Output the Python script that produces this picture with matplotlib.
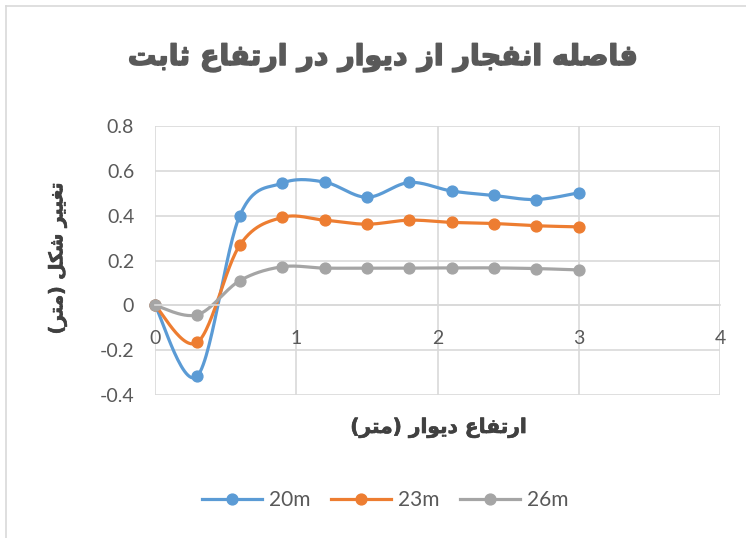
import numpy as np
import matplotlib
matplotlib.use("Agg")
import matplotlib.pyplot as plt
import matplotlib.patheffects as pe
from matplotlib.lines import Line2D

# ارتفاع دیوار (متر)
x = [0, 0.3, 0.6, 0.9, 1.2, 1.5, 1.8, 2.1, 2.4, 2.7, 3.0]
# تغییر شکل برای هر فاصله انفجار
d20 = [0, -0.315, 0.40, 0.545, 0.55, 0.482, 0.548, 0.51, 0.49, 0.472, 0.502]
d23 = [0, -0.165, 0.268, 0.392, 0.38, 0.362, 0.38, 0.37, 0.365, 0.355, 0.35]
d26 = [0, -0.042, 0.11, 0.172, 0.166, 0.166, 0.166, 0.167, 0.167, 0.164, 0.158]
series_labels = ["20m", "23m", "26m"]
colors = ["#5B9BD5", "#ED7D31", "#A5A5A5"]
xticks = [0, 1, 2, 3, 4]
yticks = [-0.4, -0.2, 0, 0.2, 0.4, 0.6, 0.8]
ytick_labels = ["-0.4", "-0.2", "0", "0.2", "0.4", "0.6", "0.8"]

title = "فاصله انفجار از دیوار در ارتفاع ثابت"
xlabel = "ارتفاع دیوار (متر)"
ylabel = "تغییر شکل (متر)"

# فرم‌های نمایشی حروف: (تنها، پایانی، آغازی، میانی)
FORMS = {
    "ا": ("\uFE8D", "\uFE8E", None, None),
    "ب": ("\uFE8F", "\uFE90", "\uFE91", "\uFE92"),
    "ت": ("\uFE95", "\uFE96", "\uFE97", "\uFE98"),
    "ث": ("\uFE99", "\uFE9A", "\uFE9B", "\uFE9C"),
    "ج": ("\uFE9D", "\uFE9E", "\uFE9F", "\uFEA0"),
    "د": ("\uFEA9", "\uFEAA", None, None),
    "ر": ("\uFEAD", "\uFEAE", None, None),
    "ز": ("\uFEAF", "\uFEB0", None, None),
    "ش": ("\uFEB5", "\uFEB6", "\uFEB7", "\uFEB8"),
    "ص": ("\uFEB9", "\uFEBA", "\uFEBB", "\uFEBC"),
    "ع": ("\uFEC9", "\uFECA", "\uFECB", "\uFECC"),
    "غ": ("\uFECD", "\uFECE", "\uFECF", "\uFED0"),
    "ف": ("\uFED1", "\uFED2", "\uFED3", "\uFED4"),
    "ل": ("\uFEDD", "\uFEDE", "\uFEDF", "\uFEE0"),
    "م": ("\uFEE1", "\uFEE2", "\uFEE3", "\uFEE4"),
    "ن": ("\uFEE5", "\uFEE6", "\uFEE7", "\uFEE8"),
    "ه": ("\uFEE9", "\uFEEA", "\uFEEB", "\uFEEC"),
    "و": ("\uFEED", "\uFEEE", None, None),
    "ی": ("\uFBFC", "\uFBFD", "\uFBFE", "\uFBFF"),
    "ک": ("\uFB8E", "\uFB8F", "\uFB90", "\uFB91"),
}


def shape(text):
    # اتصال حروف و چینش راست به چپ
    out = []
    for i, c in enumerate(text):
        if c not in FORMS:
            out.append(c)
            continue
        prev = text[i - 1] if i > 0 else ""
        nxt = text[i + 1] if i + 1 < len(text) else ""
        jp = prev in FORMS and FORMS[prev][2] is not None
        jn = FORMS[c][2] is not None and nxt in FORMS
        f = FORMS[c]
        if jp and jn:
            out.append(f[3])
        elif jp:
            out.append(f[1])
        elif jn:
            out.append(f[2])
        else:
            out.append(f[0])
    mirror = {"(": ")", ")": "("}
    return "".join(mirror.get(ch, ch) for ch in reversed(out))


def smooth(xs, ys, n=30):
    # منحنی نرم بین نقاط (بزیه مکعبی)
    p = np.column_stack([xs, ys]).astype(float)
    pts = np.vstack([p[0], p, p[-1]])
    cx, cy = [], []
    t = np.linspace(0, 1, n)[:, None]
    for i in range(1, len(pts) - 2):
        b0 = pts[i]
        b3 = pts[i + 1]
        b1 = b0 + (pts[i + 1] - pts[i - 1]) / 6
        b2 = b3 - (pts[i + 2] - pts[i]) / 6
        seg = (1 - t) ** 3 * b0 + 3 * (1 - t) ** 2 * t * b1 + 3 * (1 - t) * t ** 2 * b2 + t ** 3 * b3
        cx.extend(seg[:, 0])
        cy.extend(seg[:, 1])
    return cx, cy


W, H = 746, 538
fig = plt.figure(figsize=(W / 100, H / 100), dpi=100)
ax = fig.add_axes([155 / W, 1 - 395 / H, (720 - 155) / W, (395 - 126) / H])

grid_c = "#D9D9D9"
text_c = "#595959"

ax.set_xlim(0, 4)
ax.set_ylim(-0.4, 0.8)
ax.set_xticks(xticks)
ax.set_yticks(yticks)
ax.set_yticklabels(ytick_labels)
ax.grid(True, color=grid_c, linewidth=1.2)
ax.set_axisbelow(True)
for s in ["top", "right", "left"]:
    ax.spines[s].set_visible(False)
ax.spines["bottom"].set_position(("data", 0))
ax.spines["bottom"].set_color(grid_c)
ax.spines["bottom"].set_linewidth(1.2)
ax.tick_params(axis="both", length=0, labelsize=14, labelcolor=text_c)
ax.tick_params(axis="y", pad=15)
ax.tick_params(axis="x", pad=18)
for lbl in ax.get_xticklabels() + ax.get_yticklabels():
    lbl.set_fontfamily("Lato")

for ys, col, lab in zip([d20, d23, d26], colors, series_labels):
    sx, sy = smooth(x, ys)
    ax.plot(sx, sy, color=col, linewidth=2.3, solid_capstyle="round", clip_on=False)
    ax.plot(x, ys, "o", color=col, markersize=7.8, clip_on=False)

fig.text(383 / W, 1 - 58 / H, shape(title), ha="center", va="center",
         fontsize=20.5, fontweight="bold", color=text_c, family="DejaVu Sans",
         path_effects=[pe.withStroke(linewidth=1.1, foreground=text_c)])
fig.text(439 / W, 1 - 428 / H, shape(xlabel), ha="center", va="center",
         fontsize=14.5, fontweight="bold", color="#404040", family="DejaVu Sans",
         path_effects=[pe.withStroke(linewidth=0.5, foreground="#404040")])
fig.text(57 / W, 1 - 258 / H, shape(ylabel), ha="center", va="center", rotation=90,
         fontsize=13.5, fontweight="bold", color="#404040", family="DejaVu Sans",
         path_effects=[pe.withStroke(linewidth=0.5, foreground="#404040")])

handles = [Line2D([], [], color=c, linewidth=2.3, marker="o", markersize=7.8) for c in colors]
leg = fig.legend(handles, series_labels, loc="center", bbox_to_anchor=(385 / W, 1 - 500 / H),
                 ncol=3, frameon=False, handlelength=2.9, columnspacing=1.0, handletextpad=0.3,
                 prop={"family": "Lato", "size": 15})
for t in leg.get_texts():
    t.set_color(text_c)

# قاب نمودار
fig.add_artist(Line2D([5.5 / W, 5.5 / W], [0, 1 - 6 / H], color=grid_c, linewidth=1.2))
fig.add_artist(Line2D([5.5 / W, 1], [1 - 6 / H, 1 - 6 / H], color=grid_c, linewidth=1.2))

fig.savefig("out.png", dpi=100)
